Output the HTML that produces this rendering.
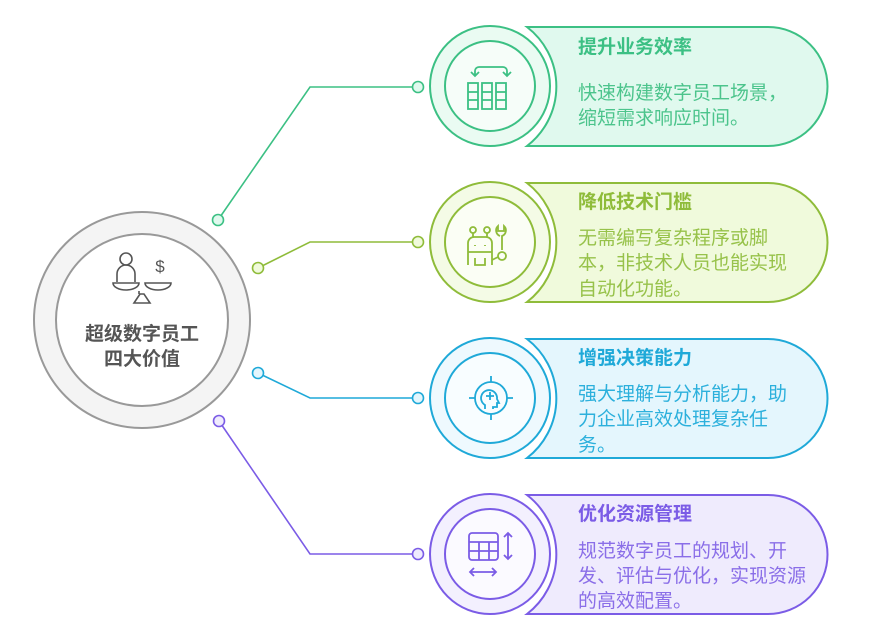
<!DOCTYPE html>
<html><head><meta charset="utf-8"><style>
html,body{margin:0;padding:0;background:#fff;}
svg{display:block;font-family:"Liberation Sans","Noto Sans CJK SC",sans-serif;}
.t{font-size:19px;font-weight:bold;}
.b{font-size:19px;}
</style></head><body>
<svg width="875" height="635" viewBox="0 0 875 635" xmlns="http://www.w3.org/2000/svg">
<g fill="none" stroke-width="1.6">
<polyline points="218,220 310,87 418,87" stroke="#3cc084"/>
<polyline points="258,268 310,242 418,242" stroke="#8fbc3a"/>
<polyline points="258,373 310,398 418,398" stroke="#1fa9d8"/>
<polyline points="219,421 310,554 418,554" stroke="#7b5ce6"/>
</g>
<g stroke-width="1.6">
<circle cx="218" cy="220" r="5.5" fill="#e0f9ee" stroke="#3cc084"/>
<circle cx="418" cy="87" r="5.5" fill="#e0f9ee" stroke="#3cc084"/>
<circle cx="258" cy="268" r="5.5" fill="#f0fadc" stroke="#8fbc3a"/>
<circle cx="418" cy="242" r="5.5" fill="#f0fadc" stroke="#8fbc3a"/>
<circle cx="258" cy="373" r="5.5" fill="#e4f6fd" stroke="#1fa9d8"/>
<circle cx="418" cy="398" r="5.5" fill="#e4f6fd" stroke="#1fa9d8"/>
<circle cx="219" cy="421" r="5.5" fill="#efebfd" stroke="#7b5ce6"/>
<circle cx="418" cy="554" r="5.5" fill="#efebfd" stroke="#7b5ce6"/>
</g>
<circle cx="142" cy="320" r="108" fill="#f4f4f4" stroke="#999" stroke-width="2"/>
<circle cx="142" cy="320" r="86" fill="#fff" stroke="#999" stroke-width="2"/>
<g fill="none" stroke="#555" stroke-width="1.6">
<circle cx="126" cy="259" r="6"/>
<path d="M117,282 v-8 a9,9 0 0 1 18,0 v8"/>
<path d="M113,283 h26 a13,7 0 0 1 -26,0z"/>
<path d="M145,283 h26 a13,7 0 0 1 -26,0z"/>
<path d="M140,294 l-6,9 h16 l-6,-9z"/>
<path d="M139,291 v3"/>
</g>
<text x="160" y="272" font-size="17" fill="#555" text-anchor="middle">$</text>
<text x="142" y="340" text-anchor="middle" font-size="19" font-weight="bold" fill="#555">超级数字员工</text>
<text x="142" y="365" text-anchor="middle" font-size="19" font-weight="bold" fill="#555">四大价值</text>

<path d="M527,27 H768 A59.5,59.5 0 0 1 768,146 H527 A75,75 0 0 0 527,27Z" fill="#e0f9ee" stroke="#3cc084" stroke-width="2"/>
<circle cx="490" cy="86" r="60" fill="#eafbf2" stroke="#3cc084" stroke-width="2"/>
<circle cx="490" cy="86" r="45" fill="#f6fdf9" stroke="#3cc084" stroke-width="2"/>
<g fill="none" stroke="#3cc084" stroke-width="1.8">
<rect x="468" y="83" width="10" height="26"/><rect x="482" y="83" width="10" height="26"/><rect x="496" y="83" width="10" height="26"/>
<path d="M468,92h10M468,100h10M482,92h10M482,100h10M496,92h10M496,100h10"/>
<path d="M475,75 v-4 a4,4 0 0 1 4,-4 h24 a4,4 0 0 1 4,4 v4 M471,72 l4,4 4,-4 M503,72 l4,4 4,-4"/>
</g>
<text class="t" x="578" y="53" fill="#3cc084">提升业务效率</text>
<text class="b" x="578" y="99" fill="#4cc48c">快速构建数字员工场景，</text>
<text class="b" x="578" y="124" fill="#4cc48c">缩短需求响应时间。</text>

<path d="M527,183 H768 A59.5,59.5 0 0 1 768,302 H527 A75,75 0 0 0 527,183Z" fill="#f0fadc" stroke="#8fbc3a" stroke-width="2"/>
<circle cx="490" cy="242" r="60" fill="#f4fbe6" stroke="#8fbc3a" stroke-width="2"/>
<circle cx="490" cy="242" r="45" fill="#fbfef5" stroke="#8fbc3a" stroke-width="2"/>
<g fill="none" stroke="#8fbc3a" stroke-width="1.8">
<circle cx="473" cy="230" r="3"/><circle cx="487" cy="230" r="3"/>
<path d="M473,233v4M487,233v4M468,265v-22a6,6 0 0 1 6,-6h12a6,6 0 0 1 6,6v22M468,252h24M475,258v7h10v-7M475,245v1M485,245v1"/>
<path d="M500,236 a6,6 0 0 1 -2,-10 v5 h6 v-5 a6,6 0 0 1 -2,10 v14"/>
<circle cx="502" cy="256" r="4"/><path d="M492,260 l6,-3"/>
</g>
<text class="t" x="578" y="208" fill="#8fbc3a">降低技术门槛</text>
<text class="b" x="578" y="244" fill="#97c24a">无需编写复杂程序或脚</text>
<text class="b" x="578" y="269" fill="#97c24a">本，非技术人员也能实现</text>
<text class="b" x="578" y="295" fill="#97c24a">自动化功能。</text>

<path d="M527,339 H768 A59.5,59.5 0 0 1 768,458 H527 A75,75 0 0 0 527,339Z" fill="#e4f6fd" stroke="#1fa9d8" stroke-width="2"/>
<circle cx="490" cy="398" r="60" fill="#eef9fe" stroke="#1fa9d8" stroke-width="2"/>
<circle cx="490" cy="398" r="45" fill="#f8fdff" stroke="#1fa9d8" stroke-width="2"/>
<g fill="none" stroke="#1fa9d8" stroke-width="1.8">
<circle cx="491" cy="398" r="16"/>
<path d="M491,376v6M491,414v6M469,398h6M507,398h6"/>
<path d="M485,409 v-4 a8,8 0 1 1 12,-6 l2,4 h-2 v4 h-4 v2"/>
<path d="M490,392v8M486,396h8"/>
</g>
<text class="t" x="578" y="364" fill="#1fa9d8">增强决策能力</text>
<text class="b" x="578" y="400" fill="#2cb0dc">强大理解与分析能力，助</text>
<text class="b" x="578" y="425" fill="#2cb0dc">力企业高效处理复杂任</text>
<text class="b" x="578" y="451" fill="#2cb0dc">务。</text>

<path d="M527,495 H768 A59.5,59.5 0 0 1 768,614 H527 A75,75 0 0 0 527,495Z" fill="#efebfd" stroke="#7b5ce6" stroke-width="2"/>
<circle cx="490" cy="554" r="60" fill="#f3f0fe" stroke="#7b5ce6" stroke-width="2"/>
<circle cx="490" cy="554" r="45" fill="#fbfaff" stroke="#7b5ce6" stroke-width="2"/>
<g fill="none" stroke="#7b5ce6" stroke-width="1.8">
<rect x="469" y="533" width="29" height="27" rx="3"/>
<path d="M469,542h29M469,551h29M479,542v18M489,542v18"/>
<path d="M508,533v26M504,537l4,-4 4,4M504,555l4,4 4,-4"/>
<path d="M470,572h26M474,568l-4,4 4,4M492,568l4,4 -4,4"/>
</g>
<text class="t" x="578" y="520" fill="#7b5ce6">优化资源管理</text>
<text class="b" x="578" y="557" fill="#8a6ee8">规范数字员工的规划、开</text>
<text class="b" x="578" y="582" fill="#8a6ee8">发、评估与优化，实现资源</text>
<text class="b" x="578" y="607" fill="#8a6ee8">的高效配置。</text>
</svg>
</body></html>
